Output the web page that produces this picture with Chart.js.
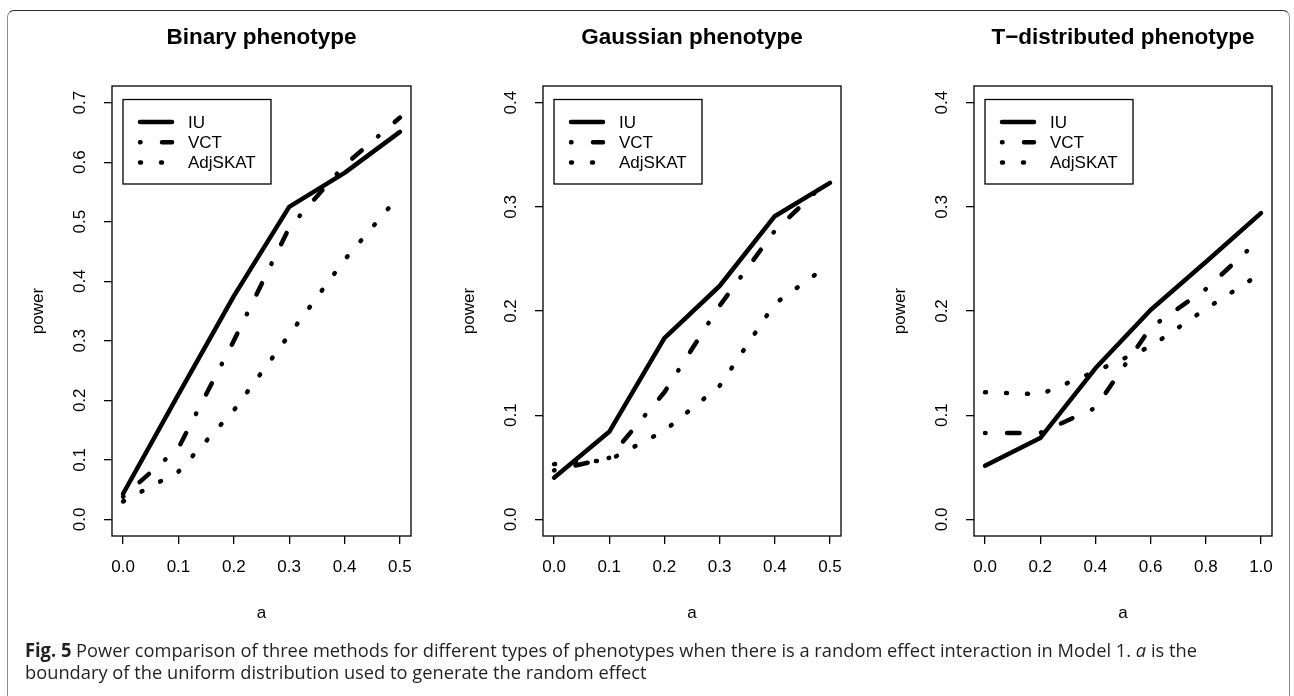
<!DOCTYPE html>
<html><head><meta charset="utf-8">
<script src="https://cdn.jsdelivr.net/npm/chart.js@4.4.1/dist/chart.umd.min.js"></script>
<style>
html,body{margin:0;padding:0;background:#fff;width:1294px;height:696px;overflow:hidden;position:relative;}
#frame{position:absolute;left:7px;top:10px;width:1283px;height:740px;border:1.5px solid #8c8c8c;border-top-color:#2a2a2a;border-radius:7px;box-sizing:border-box;}
canvas.pc{position:absolute;top:0;}
.cap{position:absolute;left:25px;font-family:'Open Sans',sans-serif;font-size:19px;color:#231f20;white-space:nowrap;transform-origin:0 50%;line-height:24px;}
</style></head>
<body>
<div id="frame"></div>
<canvas id="c1" class="pc"></canvas>
<canvas id="c2" class="pc"></canvas>
<canvas id="c3" class="pc"></canvas>
<div class="cap" id="cap1" style="top:638px"><b>Fig. 5</b> Power comparison of three methods for different types of phenotypes when there is a random effect interaction in Model 1. <i>a</i> is the</div>
<div class="cap" id="cap2" style="top:660px">boundary of the uniform distribution used to generate the random effect</div>
<script>
// ---- data ----
const seriesNames = ['IU', 'VCT', 'AdjSKAT'];
const panelTitles = ['Binary phenotype', 'Gaussian phenotype', 'T\u2212distributed phenotype'];
const xAxisTitle = 'a';
const yAxisTitle = 'power';

const aBinary = [0, 0.1, 0.2, 0.3, 0.4, 0.5];
const iuBinary = [0.043, 0.21, 0.375, 0.525, 0.582, 0.651];
const vctBinary = [0.038, 0.12, 0.30, 0.49, 0.595, 0.675];
const adjBinary = [0.030, 0.080, 0.183, 0.310, 0.436, 0.545];

const aGauss = [0, 0.1, 0.2, 0.3, 0.4, 0.5];
const iuGauss = [0.040, 0.084, 0.174, 0.224, 0.291, 0.323];
const vctGauss = [0.047, 0.059, 0.122, 0.205, 0.277, 0.327];
const adjGauss = [0.053, 0.057, 0.085, 0.128, 0.207, 0.245];

const aT = [0, 0.2, 0.4, 0.6, 0.8, 1.0];
const iuT = [0.0515, 0.078, 0.145, 0.201, 0.247, 0.294];
const vctT = [0.083, 0.083, 0.107, 0.184, 0.221, 0.270];
const adjT = [0.122, 0.120, 0.142, 0.166, 0.202, 0.236];

const xTicksHalf = [0, 0.1, 0.2, 0.3, 0.4, 0.5];
const xTicksOne = [0, 0.2, 0.4, 0.6, 0.8, 1.0];
const yTicksBinary = [0, 0.1, 0.2, 0.3, 0.4, 0.5, 0.6, 0.7];
const yTicksSmall = [0, 0.1, 0.2, 0.3, 0.4];

// ---- layout / style ----
const FRAME_TOP = 86, FRAME_BOTTOM = 536, CANVAS_H = 640;
const LEFT_SPACE = 112, RIGHT_SPACE = 20;
const FONT = "'Liberation Sans', Arial, Helvetica, sans-serif";
const INK = '#000';
const lineStyles = [
  { borderDash: [], borderWidth: 4.5 },
  { borderDash: [0.5, 21.5, 12.5, 21.5], borderWidth: 4.5 },
  { borderDash: [1, 20], borderWidth: 4.5 }
];

function pairs(xs, ys) { return xs.map((x, i) => ({ x: x, y: ys[i] })); }

const rPlot = {
  id: 'rPlot',
  afterDraw(chart, args, o) {
    const ctx = chart.ctx, ca = chart.chartArea;
    ctx.save();
    ctx.strokeStyle = INK; ctx.lineWidth = 1.3; ctx.setLineDash([]);
    ctx.strokeRect(ca.left, ca.top, ca.right - ca.left, ca.bottom - ca.top);
    const ys = chart.scales.y;
    ctx.fillStyle = INK;
    ctx.font = '17px ' + FONT;
    ctx.textAlign = 'center'; ctx.textBaseline = 'middle';
    o.yTicks.forEach(v => {
      const py = ys.getPixelForValue(v);
      ctx.save(); ctx.translate(ca.left - 32, py); ctx.rotate(-Math.PI / 2);
      ctx.fillText(v.toFixed(1), 0, 0); ctx.restore();
    });
    ctx.save(); ctx.translate(ca.left - 74, (ca.top + ca.bottom) / 2); ctx.rotate(-Math.PI / 2);
    ctx.fillText(yAxisTitle, 0, 0); ctx.restore();
    ctx.fillText(xAxisTitle, (ca.left + ca.right) / 2, 613);
    ctx.font = 'bold 22.5px ' + FONT;
    ctx.fillText(o.title, (ca.left + ca.right) / 2, 38);
    const bx = ca.left + 11, by = ca.top + 13.5, bw = 148, bh = 84.5;
    ctx.lineWidth = 1.3; ctx.strokeRect(bx, by, bw, bh);
    ctx.font = '17px ' + FONT; ctx.textAlign = 'left';
    chart.data.datasets.forEach((ds, i) => {
      const ry = ca.top + 36 + i * 20.3;
      ctx.save();
      ctx.strokeStyle = ds.borderColor; ctx.lineWidth = ds.borderWidth;
      ctx.lineCap = 'round'; ctx.setLineDash(ds.borderDash || []);
      ctx.beginPath(); ctx.moveTo(ca.left + 28, ry); ctx.lineTo(ca.left + 60, ry); ctx.stroke();
      ctx.restore();
      ctx.fillText(ds.label, ca.left + 76, ry + 1);
    });
    ctx.restore();
  }
};

function makePanel(id, frameLeft, frameWidth, xs, series, xTicks, yTicks, xMin, xMax, yMin, yMax, title) {
  const cv = document.getElementById(id);
  cv.width = frameWidth + LEFT_SPACE + RIGHT_SPACE;
  cv.height = CANVAS_H;
  cv.style.left = (frameLeft - LEFT_SPACE) + 'px';
  new Chart(cv, {
    type: 'line',
    data: {
      datasets: series.map((ys, i) => ({
        label: seriesNames[i],
        data: pairs(xs, ys),
        borderColor: INK,
        borderWidth: lineStyles[i].borderWidth,
        borderDash: lineStyles[i].borderDash,
        borderCapStyle: 'round',
        borderJoinStyle: 'round',
        pointRadius: 0,
        tension: 0,
        fill: false
      }))
    },
    options: {
      responsive: false,
      animation: false,
      devicePixelRatio: 1,
      layout: { padding: { left: 0, right: RIGHT_SPACE, top: FRAME_TOP, bottom: 0 } },
      plugins: { legend: { display: false }, title: { display: false }, tooltip: { enabled: false },
        rPlot: { yTicks: yTicks, title: title } },
      scales: {
        x: {
          type: 'linear', min: xMin, max: xMax,
          afterBuildTicks: s => { s.ticks = xTicks.map(v => ({ value: v })); },
          afterFit: s => { s.height = CANVAS_H - FRAME_BOTTOM; },
          border: { display: false },
          grid: { drawOnChartArea: false, drawTicks: true, tickLength: 8, color: INK, lineWidth: 1.3 },
          ticks: { color: INK, font: { family: FONT, size: 17 }, padding: 13, maxRotation: 0,
            callback: v => Number(v).toFixed(1) }
        },
        y: {
          type: 'linear', min: yMin, max: yMax,
          afterBuildTicks: s => { s.ticks = yTicks.map(v => ({ value: v })); },
          afterFit: s => { s.width = LEFT_SPACE; },
          border: { display: false },
          grid: { drawOnChartArea: false, drawTicks: true, tickLength: 8, color: INK, lineWidth: 1.3 },
          ticks: { display: false }
        }
      }
    },
    plugins: [rPlot]
  });
}

makePanel('c1', 112, 299, aBinary, [iuBinary, vctBinary, adjBinary], xTicksHalf, yTicksBinary, -0.02, 0.52, -0.028, 0.728, panelTitles[0]);
makePanel('c2', 543, 298, aGauss, [iuGauss, vctGauss, adjGauss], xTicksHalf, yTicksSmall, -0.02, 0.52, -0.016, 0.416, panelTitles[1]);
makePanel('c3', 974, 298, aT, [iuT, vctT, adjT], xTicksOne, yTicksSmall, -0.04, 1.04, -0.016, 0.416, panelTitles[2]);

(function () {
  const c1 = document.getElementById('cap1'), c2 = document.getElementById('cap2');
  const w = c1.getBoundingClientRect().width;
  const k = (1197 - 25) / w;
  c1.style.transform = 'scaleX(' + k + ')';
  c2.style.transform = 'scaleX(' + k + ')';
})();
</script>
</body></html>
